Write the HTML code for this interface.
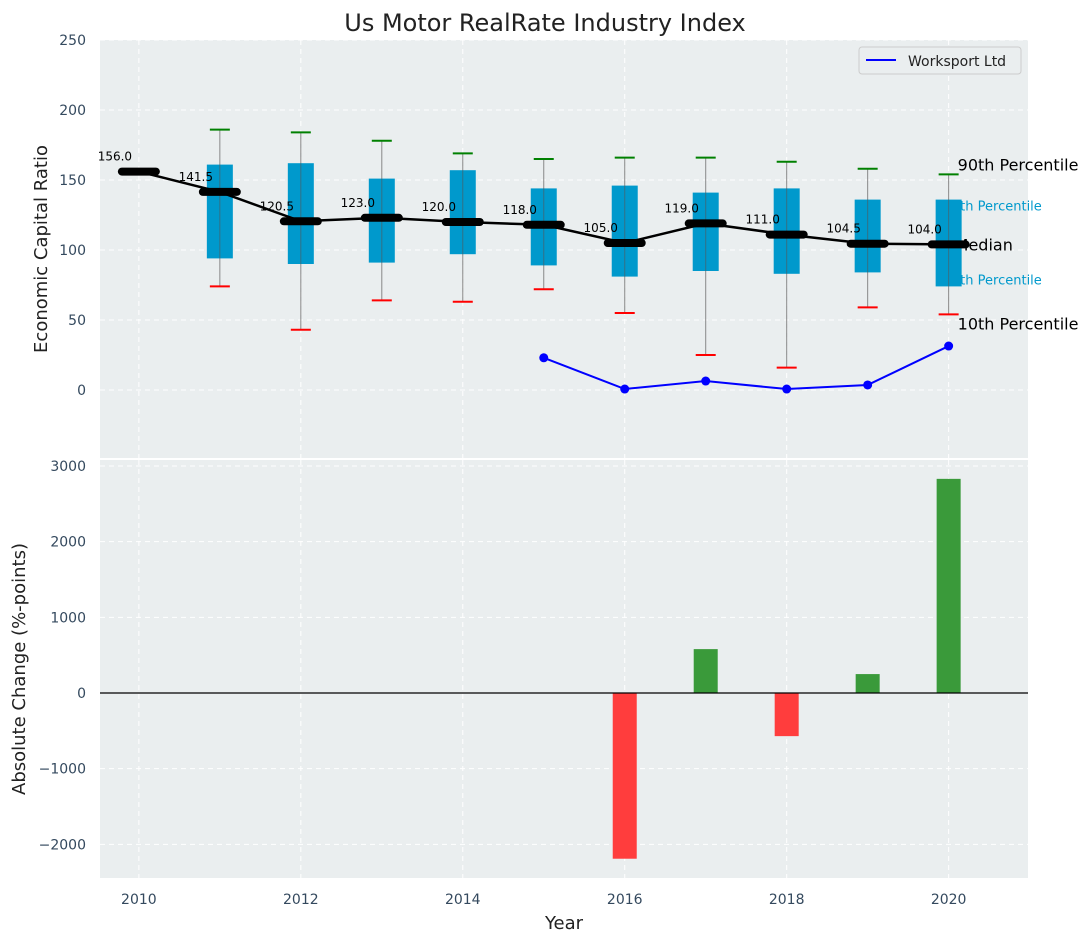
<!DOCTYPE html>
<html><head><meta charset="utf-8"><style>
html,body{margin:0;padding:0;background:#fff;}
svg{display:block;font-family:"DejaVu Sans","Liberation Sans",sans-serif;}
</style></head><body>
<svg id="chart" width="1092" height="942" viewBox="0 0 1092 942">
<text x="545" y="31" font-size="24" fill="#222" text-anchor="middle">Us Motor RealRate Industry Index</text>
<rect x="100" y="40" width="928" height="418" fill="#eaeeef"/>
<rect x="100" y="460" width="928" height="418" fill="#eaeeef"/>
<g id="gtop"></g><g id="gbot"></g>
<text x="47" y="249" font-size="18" fill="#222" text-anchor="middle" transform="rotate(-90 47 249)">Economic Capital Ratio</text>
<text x="25" y="669" font-size="18" fill="#222" text-anchor="middle" transform="rotate(-90 25 669)">Absolute Change (%-points)</text>
<text x="564" y="929" font-size="18" fill="#222" text-anchor="middle">Year</text>
<g>
<rect x="859" y="47" width="162" height="27" rx="3" fill="#eaeeef" stroke="#ccc"/>
<line x1="866" y1="60" x2="896" y2="60" stroke="#0000ff" stroke-width="2"/>
<text x="908" y="66" font-size="14" fill="#222">Worksport Ltd</text>
</g>
</svg>
<script>
const years=[2010,2011,2012,2013,2014,2015,2016,2017,2018,2019,2020];
const medians=[156,141.5,120.5,123,120,118,105,119,111,104.5,104];
const q1=[null,94,90,91,97,89,81,85,83,84,74];
const q3=[null,161,162,151,157,144,146,141,144,136,136];
const p10=[null,74,43,64,63,72,55,25,16,59,54];
const p90=[null,186,184,178,169,165,166,166,163,158,154];
const wsYears=[2015,2016,2017,2018,2019,2020];
const wsValues=[23,0.7,6.4,0.7,3.6,31.4];
const chgYears=[2016,2017,2018,2019,2020];
const chgValues=[-2190,580,-570,250,2830];
const topTicks=[0,50,100,150,200,250];
const botTicks=[-2000,-1000,0,1000,2000,3000];
const xTicks=[2010,2012,2014,2016,2018,2020];

const NS="http://www.w3.org/2000/svg";
const X=v=>100+(v-2009.52)*(928/11.46);
const YT=v=>390-v*1.4;
const YB=v=>693-v*0.07567;
function mk(p,tag,a){const e=document.createElementNS(NS,tag);for(const k in a)e.setAttribute(k,a[k]);p.appendChild(e);return e;}
const gTop=document.getElementById('gtop'),gBot=document.getElementById('gbot');

xTicks.forEach(t=>{
  [[40,458],[460,878]].forEach(r=>{const l=mk(gTop,'line',{x1:X(t),x2:X(t),y1:r[0],y2:r[1],stroke:'#fff','stroke-dasharray':'5,4','stroke-width':1});
  
  });
  const tx=mk(gBot,'text',{x:X(t),y:904,'font-size':14,fill:'#34495e','text-anchor':'middle'});tx.textContent=t;
  
  
});
topTicks.forEach(t=>{
  const l=mk(gTop,'line',{x1:100,x2:1028,y1:YT(t),y2:YT(t),stroke:'#fff','stroke-dasharray':'5,4'});
  
  
  const tx=mk(gTop,'text',{x:86,y:YT(t)+5,'font-size':14,fill:'#34495e','text-anchor':'end'});tx.textContent=t;
  
  
});
botTicks.forEach(t=>{
  const l=mk(gBot,'line',{x1:100,x2:1028,y1:YB(t),y2:YB(t),stroke:'#fff','stroke-dasharray':'5,4'});
  
  
  const tx=mk(gBot,'text',{x:86,y:YB(t)+5,'font-size':14,fill:'#34495e','text-anchor':'end'});tx.textContent=(t<0?'\u2212'+(-t):t);
  
  
});

const lx=X(2020)+9, li=years.length-1;
[['90th Percentile',p90[li],16,'#000'],['75th Percentile',q3[li],13,'#0099cc'],['Median',medians[li],16,'#000'],['25th Percentile',q1[li],13,'#0099cc'],['10th Percentile',p10[li],16,'#000']].forEach(a=>{
  let yy,xx=lx;
  if(a[0]==='90th Percentile')yy=YT(a[1])-4;
  else if(a[0]==='10th Percentile')yy=YT(a[1])+15;
  else if(a[0]==='Median'){yy=YT(a[1])+6;xx=lx-3;}
  else if(a[0][0]==='7'){yy=YT(a[1])+11;xx=lx-14;}
  else {yy=YT(a[1])-2;xx=lx-14;}
  const t=mk(gTop,'text',{x:xx,y:yy,'font-size':a[2],fill:a[3]});t.textContent=a[0];
  
  
});

years.forEach((y,i)=>{
  const cx=X(y);
  if(p10[i]!==null){
    const w=mk(gTop,'line',{x1:cx,x2:cx,y1:YT(p90[i]),y2:YT(p10[i]),stroke:'#888','stroke-width':1});
    
    
    const b=mk(gTop,'rect',{x:cx-13,width:26,y:YT(q3[i]),height:YT(q1[i])-YT(q3[i]),fill:'#0099cc'});
    
    
    mk(gTop,'line',{x1:cx,x2:cx,y1:YT(q3[i]),y2:YT(q1[i]),stroke:'#555','stroke-opacity':0.6,'stroke-width':1});
    const c1=mk(gTop,'line',{x1:cx-10,x2:cx+10,y1:YT(p90[i]),y2:YT(p90[i]),stroke:'green','stroke-width':2});
    
    
    const c2=mk(gTop,'line',{x1:cx-10,x2:cx+10,y1:YT(p10[i]),y2:YT(p10[i]),stroke:'red','stroke-width':2});
    
    
  }
});
const ml=mk(gTop,'polyline',{points:years.map((y,i)=>X(y)+','+YT(medians[i])).join(' '),fill:'none',stroke:'#000','stroke-width':2.5});


years.forEach((y,i)=>{
  const m=mk(gTop,'line',{x1:X(y)-17,x2:X(y)+17,y1:YT(medians[i]),y2:YT(medians[i]),stroke:'#000','stroke-width':8,'stroke-linecap':'round'});
  
  
  const t=mk(gTop,'text',{x:X(y)-24,y:YT(medians[i])-11,'font-size':12,fill:'#000','text-anchor':'middle'});t.textContent=medians[i].toFixed(1);
  
  
});
const wl=mk(gTop,'polyline',{points:wsYears.map((y,i)=>X(y)+','+YT(wsValues[i])).join(' '),fill:'none',stroke:'#0000ff','stroke-width':2});


wsYears.forEach((y,i)=>{
  const c=mk(gTop,'circle',{cx:X(y),cy:YT(wsValues[i]),r:4.5,fill:'#0000ff'});
  
  
});
chgYears.forEach((y,i)=>{
  const v=chgValues[i];
  const r=mk(gBot,'rect',{x:X(y)-12,width:24,y:Math.min(YB(v),YB(0)),height:Math.abs(YB(v)-YB(0)),fill:v>=0?'#3a9a3a':'#ff3d3d'});
  
  
});
const z=mk(gBot,'line',{x1:100,x2:1028,y1:YB(0),y2:YB(0),stroke:'#000','stroke-width':1.2});


</script>
</body></html>
